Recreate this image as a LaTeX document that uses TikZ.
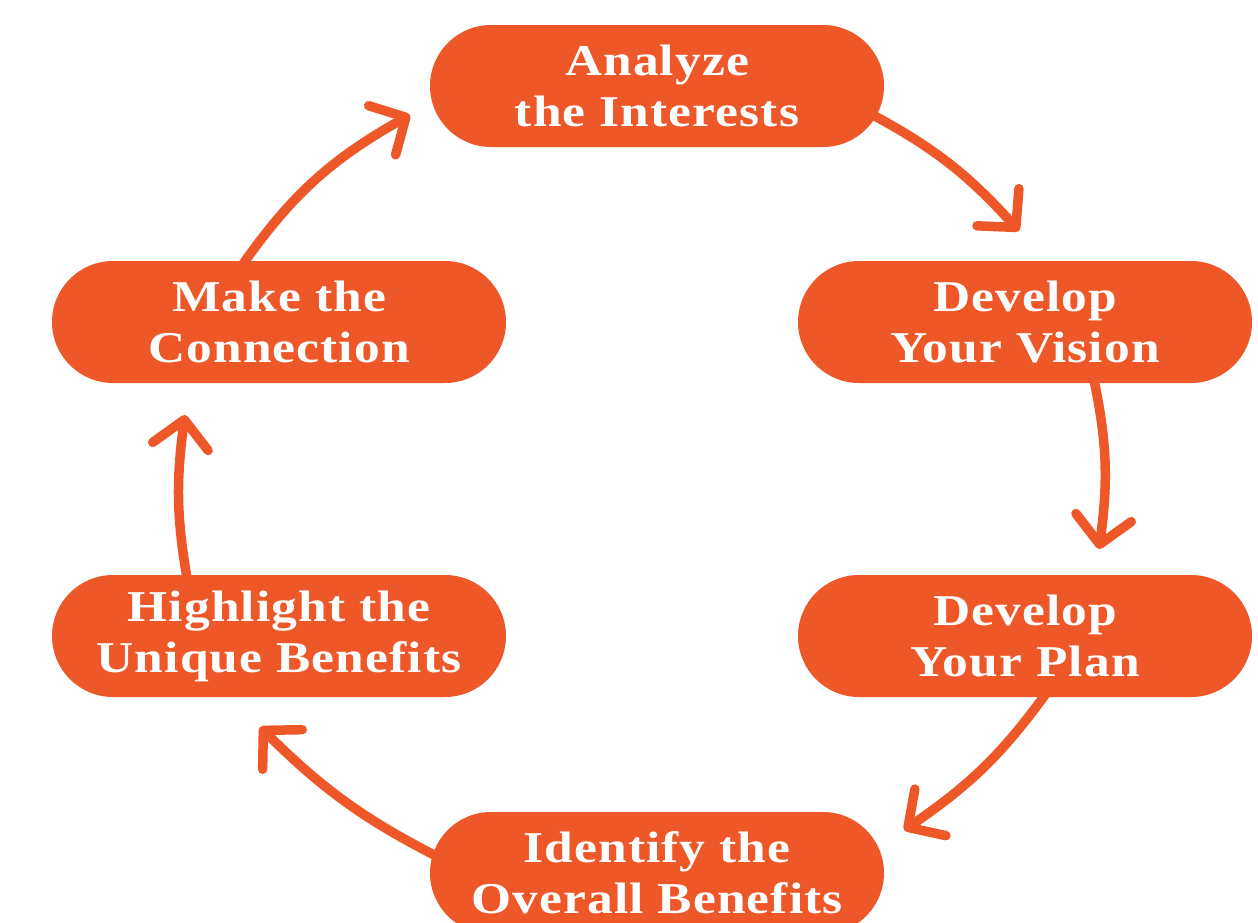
\documentclass[tikz,border=0pt]{standalone}
\usepackage{fontspec}
\setmainfont{Liberation Serif}[FakeStretch=1.17,LetterSpace=2.5]
\usetikzlibrary{arrows.meta,bending}
\definecolor{brandorange}{RGB}{238,87,40}
\tikzset{
  pill/.style={fill=brandorange, draw=none, rounded corners=61pt,
    minimum width=454pt, minimum height=122pt, inner sep=0pt,
    text=white, align=center,
    font=\fontsize{44}{51}\selectfont\bfseries},
  cyclearrow/.style={draw=brandorange, line width=9.5pt, line cap=round,
    -{Straight Barb[length=27pt,width=56pt,round,flex]}}
}
\begin{document}
\begin{tikzpicture}[x=1pt,y=1pt]
\useasboundingbox (0,0) rectangle (1258,-922);
\clip (0,0) rectangle (1258,-922);
\node[pill] (n1) at (657,-86)  {Analyze\\the Interests};
\node[pill] (n2) at (1025,-322) {Develop\\Your Vision};
\node[pill] (n3) at (1025,-636) {Develop\\Your Plan};
\node[pill] (n4) at (657,-873) {Identify the\\Overall Benefits};
\node[pill] (n5) at (279,-636) {Highlight the\\Unique Benefits};
\node[pill] (n6) at (279,-322) {Make the\\Connection};

\coordinate (s1) at (873,-115);  \coordinate (t1) at (1019,-231);
\coordinate (s2) at (1094,-380); \coordinate (t2) at (1099,-549);
\coordinate (s3) at (1045,-695); \coordinate (t3) at (904,-830);
\coordinate (s4) at (440,-858);  \coordinate (t4) at (260,-727);
\coordinate (s5) at (187,-578);  \coordinate (t5) at (185,-415);
\coordinate (s6) at (243,-264);  \coordinate (t6) at (410,-115);

\draw[cyclearrow] (s1) to[bend left=10] (t1);
\draw[cyclearrow] (s2) to[bend left=10] (t2);
\draw[cyclearrow] (s3) to[bend left=10] (t3);
\draw[cyclearrow] (s4) to[bend left=9]  (t4);
\draw[cyclearrow] (s5) to[bend left=9]  (t5);
\draw[cyclearrow] (s6) to[bend left=13] (t6);
\end{tikzpicture}
\end{document}
